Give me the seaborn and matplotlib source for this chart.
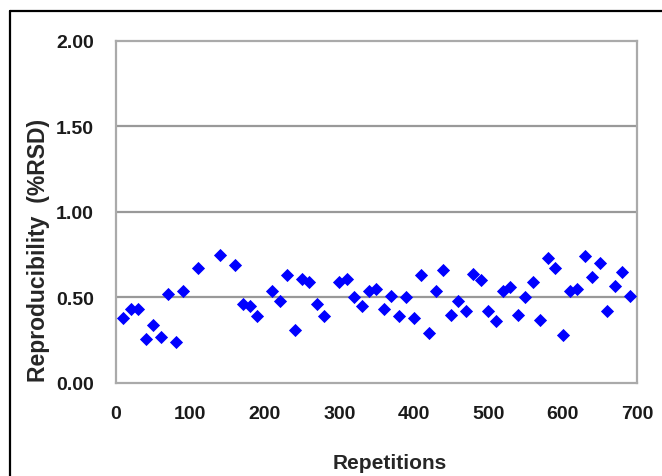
import numpy as np
import pandas as pd
import matplotlib
matplotlib.use("Agg")
import matplotlib.pyplot as plt
from matplotlib.lines import Line2D
import seaborn as sns

# repetition number and %RSD
repetitions = [10, 20, 30, 40, 50, 60, 70, 80, 90, 110,
               140, 160, 170, 180, 190, 210, 220, 230, 240, 250,
               260, 270, 280, 300, 310, 320, 330, 340, 350, 360,
               370, 380, 390, 400, 410, 420, 430, 440, 450, 460,
               470, 480, 490, 500, 510, 520, 530, 540, 550, 560,
               570, 580, 590, 600, 610, 620, 630, 640, 650, 660,
               670, 680, 690]
rsd = [0.38, 0.43, 0.43, 0.26, 0.34, 0.27, 0.52, 0.24, 0.54, 0.67,
       0.75, 0.69, 0.46, 0.45, 0.39, 0.54, 0.48, 0.63, 0.31, 0.61,
       0.59, 0.46, 0.39, 0.59, 0.61, 0.50, 0.45, 0.54, 0.55, 0.43,
       0.51, 0.39, 0.50, 0.38, 0.63, 0.29, 0.54, 0.66, 0.40, 0.48,
       0.42, 0.64, 0.60, 0.42, 0.36, 0.54, 0.56, 0.40, 0.50, 0.59,
       0.37, 0.73, 0.67, 0.28, 0.54, 0.55, 0.74, 0.62, 0.70, 0.42,
       0.57, 0.65, 0.51]
x_ticks = [0, 100, 200, 300, 400, 500, 600, 700]
y_ticks = [0.0, 0.5, 1.0, 1.5, 2.0]

df = pd.DataFrame({"Repetitions": repetitions, "RSD": rsd})

sns.set_style("white")
plt.rcParams["font.family"] = ["Liberation Sans", "DejaVu Sans"]

fig = plt.figure(figsize=(6.62, 4.77), dpi=100)
ax = fig.add_axes([0.1752, 0.195, 0.787, 0.717])

sns.scatterplot(data=df, x="Repetitions", y="RSD", marker="D", color="#0000ff",
                s=45, linewidth=0, ax=ax, zorder=3)

ax.set_xlim(0, 700)
ax.set_ylim(0, 2.0)
ax.set_xticks(x_ticks)
ax.set_yticks(y_ticks)
ax.set_xticklabels([str(t) for t in x_ticks], fontsize=14, fontweight="bold", color="#1a1a1a")
ax.set_yticklabels(["%.2f" % t for t in y_ticks], fontsize=14, fontweight="bold", color="#1a1a1a")
ax.tick_params(axis="x", direction="in", length=5, width=1.2, color="#999999", pad=16)
ax.tick_params(axis="y", length=0, pad=16)

for v in [0.5, 1.0, 1.5]:
    ax.axhline(v, color="#999999", lw=1.6, zorder=1)
for sp in ax.spines.values():
    sp.set_visible(True)
    sp.set_color("#aaaaaa")
    sp.set_linewidth(1.6)

ax.set_xlabel("Repetitions", fontsize=15, fontweight="bold")
ax.set_ylabel("Reproducibility  (%RSD)", fontsize=16.5, fontweight="bold")
ax.xaxis.set_label_coords(0.525, -0.205)
ax.yaxis.set_label_coords(-0.127, 0.39)

# outer frame (cropped at right and bottom)
fig.add_artist(Line2D([10 / 662, 1.0], [1 - 12 / 477, 1 - 12 / 477], color="black", lw=1.6))
fig.add_artist(Line2D([10 / 662, 10 / 662], [0.0, 1 - 12 / 477], color="black", lw=1.6))

fig.savefig("out.png", dpi=100)
